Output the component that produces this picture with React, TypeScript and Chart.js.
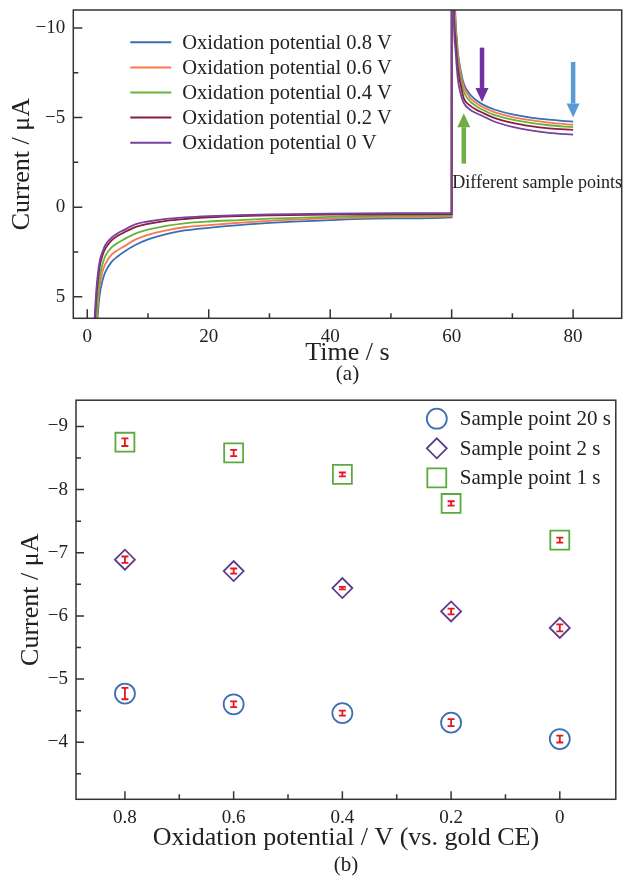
import React, { useEffect, useRef } from "react";
import { Chart, registerables } from "chart.js";

Chart.register(...registerables);

// ---------------- (a) chronoamperometry curves ----------------
const TIMES = [1.0, 1.5, 2, 2.5, 3, 4, 5, 6, 8, 10, 13, 16, 20, 25, 30, 40, 50, 60, 60.02, 60.3, 60.6, 61, 61.5, 62, 63, 64, 65, 67, 70, 73, 76, 80];
const SERIES_LABELS = [
  "Oxidation potential 0.8 V",
  "Oxidation potential 0.6 V",
  "Oxidation potential 0.4 V",
  "Oxidation potential 0.2 V",
  "Oxidation potential 0 V",
];
const CURRENT_08V = [9.5, 7.0, 5.0, 4.1, 3.6, 3.05, 2.75, 2.5, 2.1, 1.8, 1.5, 1.3, 1.15, 1.0, 0.88, 0.72, 0.63, 0.57, -30, -14, -10.8, -8.75, -7.6, -6.89, -6.3, -5.98, -5.75, -5.45, -5.18, -5.0, -4.88, -4.77];
const CURRENT_06V = [9.0, 6.5, 4.5, 3.6, 3.15, 2.65, 2.4, 2.2, 1.8, 1.55, 1.3, 1.12, 1.0, 0.87, 0.76, 0.63, 0.55, 0.5, -30, -13.5, -10.4, -8.58, -7.4, -6.71, -6.12, -5.82, -5.6, -5.3, -5.03, -4.85, -4.72, -4.6];
const CURRENT_04V = [8.5, 6.0, 4.0, 3.2, 2.7, 2.25, 2.0, 1.8, 1.46, 1.25, 1.04, 0.9, 0.8, 0.72, 0.64, 0.54, 0.48, 0.44, -30, -13, -10.0, -8.24, -7.15, -6.44, -5.92, -5.65, -5.45, -5.15, -4.88, -4.7, -4.57, -4.46];
const CURRENT_02V = [8.0, 5.0, 3.4, 2.7, 2.3, 1.85, 1.6, 1.42, 1.1, 0.93, 0.76, 0.66, 0.57, 0.5, 0.46, 0.42, 0.4, 0.39, -30, -12.3, -9.5, -7.78, -6.8, -6.07, -5.68, -5.45, -5.28, -4.98, -4.7, -4.52, -4.4, -4.31];
const CURRENT_0V = [7.5, 4.6, 3.1, 2.5, 2.1, 1.7, 1.45, 1.28, 0.95, 0.8, 0.65, 0.57, 0.5, 0.44, 0.4, 0.36, 0.34, 0.32, -30, -11.5, -8.9, -7.2, -6.3, -5.81, -5.45, -5.25, -5.1, -4.78, -4.48, -4.28, -4.15, -4.05];
const TIME_TICKS = [0, 20, 40, 60, 80];
const TIME_MINOR = [10, 30, 50, 70];
const CURRENT_A_TICKS = [-10, -5, 0, 5];
const CURRENT_A_MINOR = [-7.5, -2.5, 2.5];
const ARROW_TIMES = [65, 80, 62];
const ARROW_FROM = [-8.9, -8.1, -2.43];
const ARROW_TO = [-5.87, -5.0, -5.24];
const NOTE_TEXT = "Different sample points";
const NOTE_AT = { t: 60.1, i: -1.32 };

// ---------------- (b) sample points ----------------
const POTENTIALS = [0.8, 0.6, 0.4, 0.2, 0];
const SAMPLE_LABELS = ["Sample point 20 s", "Sample point 2 s", "Sample point 1 s"];
const SAMPLE_20S = [-4.77, -4.6, -4.46, -4.31, -4.05];
const SAMPLE_20S_ERR = [0.09, 0.045, 0.04, 0.055, 0.055];
const SAMPLE_2S = [-6.89, -6.71, -6.44, -6.07, -5.81];
const SAMPLE_2S_ERR = [0.05, 0.04, 0.02, 0.045, 0.055];
const SAMPLE_1S = [-8.75, -8.58, -8.24, -7.78, -7.2];
const SAMPLE_1S_ERR = [0.06, 0.05, 0.03, 0.035, 0.04];
const POT_TICKS = [0.8, 0.6, 0.4, 0.2, 0];
const POT_MINOR = [0.7, 0.5, 0.3, 0.1];
const CURRENT_B_TICKS = [-9, -8, -7, -6, -5, -4];
const CURRENT_B_MINOR = [-8.5, -7.5, -6.5, -5.5, -4.5, -3.5];

// ---------------- styles ----------------
const FONT = '"Liberation Serif", "Times New Roman", Times, serif';
const INK = "#222222";
const AXIS = "#333333";
const LINE_COLORS = ["#376eb4", "#fa7850", "#64b43c", "#8c1e3c", "#7840a0"];
const ARROW_COLORS = ["#7030a0", "#5b9bd5", "#70ad47"];
const MARKER_COLORS = ["#3c6eb4", "#5b3c8c", "#5aaa3c"];
const MARKER_STYLES = ["circle", "rectRot", "rect"];
const MARKER_RADII = [10, 10, 13.4];
const ERR_COLOR = "#e8141e";

function fmtMinus(v: number): string {
  const r = Math.round(v * 100) / 100;
  return r < 0 ? "\u2212" + String(Math.abs(r)) : String(r);
}

function fixAxis(size: number, horizontal: boolean) {
  return (scale: any) => {
    if (horizontal) scale.height = size;
    else scale.width = size;
    scale.paddingTop = 0;
    scale.paddingBottom = 0;
    scale.paddingLeft = 0;
    scale.paddingRight = 0;
  };
}

function setTicks(values: number[]) {
  return (scale: any) => {
    scale.ticks = values.map((v) => ({ value: v }));
  };
}

function makeFrame(xMajor: number[], xMinor: number[], yMajor: number[], yMinor: number[], majorLen: number, minorLen: number) {
  return {
    id: "frame",
    afterDatasetsDraw(chart: any) {
      const { ctx, chartArea: a, scales } = chart;
      const xs = scales.x;
      const ys = scales.y;
      ctx.save();
      ctx.strokeStyle = AXIS;
      ctx.lineWidth = 1.5;
      ctx.beginPath();
      for (const v of xMajor) {
        const p = xs.getPixelForValue(v);
        ctx.moveTo(p, a.bottom);
        ctx.lineTo(p, a.bottom - majorLen);
      }
      for (const v of xMinor) {
        const p = xs.getPixelForValue(v);
        ctx.moveTo(p, a.bottom);
        ctx.lineTo(p, a.bottom - minorLen);
      }
      for (const v of yMajor) {
        const p = ys.getPixelForValue(v);
        ctx.moveTo(a.left, p);
        ctx.lineTo(a.left + majorLen, p);
      }
      for (const v of yMinor) {
        const p = ys.getPixelForValue(v);
        ctx.moveTo(a.left, p);
        ctx.lineTo(a.left + minorLen, p);
      }
      ctx.stroke();
      ctx.strokeRect(a.left, a.top, a.right - a.left, a.bottom - a.top);
      ctx.restore();
    },
  };
}

function drawArrow(ctx: CanvasRenderingContext2D, x: number, yStart: number, yTip: number, color: string) {
  const sw = 4.5;
  const hw = 13;
  const hl = 14;
  const dir = Math.sign(yTip - yStart);
  const headBase = yTip - dir * hl;
  ctx.fillStyle = color;
  ctx.fillRect(x - sw / 2, Math.min(yStart, headBase), sw, Math.abs(headBase - yStart));
  ctx.beginPath();
  ctx.moveTo(x - hw / 2, headBase);
  ctx.lineTo(x + hw / 2, headBase);
  ctx.lineTo(x, yTip);
  ctx.closePath();
  ctx.fill();
}

const annotA = {
  id: "annotA",
  afterDraw(chart: any) {
    const { ctx, chartArea: a, scales } = chart;
    const xs = scales.x;
    const ys = scales.y;
    ctx.save();
    ARROW_TIMES.forEach((t, i) => {
      drawArrow(ctx, xs.getPixelForValue(t), ys.getPixelForValue(ARROW_FROM[i]), ys.getPixelForValue(ARROW_TO[i]), ARROW_COLORS[i]);
    });
    ctx.fillStyle = INK;
    ctx.font = `18px ${FONT}`;
    ctx.textAlign = "left";
    ctx.textBaseline = "middle";
    ctx.fillText(NOTE_TEXT, xs.getPixelForValue(NOTE_AT.t), ys.getPixelForValue(NOTE_AT.i));
    // legend
    ctx.font = `20.5px ${FONT}`;
    chart.data.datasets.forEach((ds: any, i: number) => {
      const y = a.top + 32.3 + i * 25.1;
      const x0 = a.left + 57;
      ctx.strokeStyle = ds.borderColor;
      ctx.lineWidth = 2;
      ctx.beginPath();
      ctx.moveTo(x0, y);
      ctx.lineTo(x0 + 41, y);
      ctx.stroke();
      ctx.fillStyle = INK;
      ctx.fillText(ds.label, x0 + 52, y + 1);
    });
    // panel label
    ctx.font = `21px ${FONT}`;
    ctx.textAlign = "center";
    ctx.fillText("(a)", (a.left + a.right) / 2, 374);
    ctx.restore();
  },
};

function drawMarker(ctx: CanvasRenderingContext2D, style: string, x: number, y: number, r: number) {
  ctx.beginPath();
  if (style === "circle") {
    ctx.arc(x, y, r, 0, Math.PI * 2);
  } else if (style === "rectRot") {
    ctx.moveTo(x, y - r);
    ctx.lineTo(x + r, y);
    ctx.lineTo(x, y + r);
    ctx.lineTo(x - r, y);
    ctx.closePath();
  } else {
    const s = r * Math.SQRT1_2;
    ctx.rect(x - s, y - s, 2 * s, 2 * s);
  }
  ctx.stroke();
}

const annotB = {
  id: "annotB",
  afterDatasetsDraw(chart: any) {
    const { ctx, scales } = chart;
    const xs = scales.x;
    const ys = scales.y;
    ctx.save();
    ctx.strokeStyle = ERR_COLOR;
    ctx.lineWidth = 1.8;
    chart.data.datasets.forEach((ds: any) => {
      ds.data.forEach((p: any, j: number) => {
        const e = ds.errors[j];
        const px = xs.getPixelForValue(p.x);
        const y0 = ys.getPixelForValue(p.y - e);
        const y1 = ys.getPixelForValue(p.y + e);
        ctx.beginPath();
        ctx.moveTo(px, y0);
        ctx.lineTo(px, y1);
        ctx.moveTo(px - 3.5, y0);
        ctx.lineTo(px + 3.5, y0);
        ctx.moveTo(px - 3.5, y1);
        ctx.lineTo(px + 3.5, y1);
        ctx.stroke();
      });
    });
    ctx.restore();
  },
  afterDraw(chart: any) {
    const { ctx, chartArea: a } = chart;
    ctx.save();
    ctx.font = `21px ${FONT}`;
    ctx.textAlign = "left";
    ctx.textBaseline = "middle";
    chart.data.datasets.forEach((ds: any, i: number) => {
      const y = a.top + 18.5 + i * 29.6;
      const x = a.right - 179;
      ctx.strokeStyle = ds.borderColor;
      ctx.lineWidth = 1.8;
      drawMarker(ctx, ds.pointStyle, x, y, ds.pointRadius);
      ctx.fillStyle = INK;
      ctx.fillText(ds.label, x + 23, y + 1);
    });
    ctx.font = `21px ${FONT}`;
    ctx.textAlign = "center";
    ctx.fillStyle = INK;
    ctx.fillText("(b)", (a.left + a.right) / 2, 480);
    ctx.restore();
  },
};

function tickFont(size: number) {
  return { family: FONT, size };
}

function buildA(): any {
  const series = [CURRENT_08V, CURRENT_06V, CURRENT_04V, CURRENT_02V, CURRENT_0V];
  return {
    type: "line",
    data: {
      datasets: series.map((vals, i) => ({
        label: SERIES_LABELS[i],
        data: TIMES.map((t, j) => ({ x: t, y: vals[j] })),
        borderColor: LINE_COLORS[i],
        backgroundColor: LINE_COLORS[i],
        borderWidth: 1.8,
        pointRadius: 0,
        cubicInterpolationMode: "monotone",
        fill: false,
        order: 5 - i,
      })),
    },
    options: {
      responsive: false,
      animation: false,
      events: [],
      layout: { padding: { top: 10, right: 9.3, left: 0, bottom: 0 } },
      scales: {
        x: {
          type: "linear",
          min: -2.3,
          max: 88,
          bounds: "data",
          grid: { display: false, drawTicks: false },
          border: { display: false },
          afterBuildTicks: setTicks(TIME_TICKS),
          afterFit: fixAxis(66.7, true),
          ticks: { font: tickFont(19), color: INK, padding: 7, maxRotation: 0, autoSkip: false, callback: (v: number) => fmtMinus(v) },
          title: { display: true, text: "Time / s", font: { family: FONT, size: 26 }, color: INK, padding: { top: 0, bottom: 16.4 } },
        },
        y: {
          type: "linear",
          reverse: true,
          min: -11,
          max: 6.2,
          bounds: "data",
          grid: { display: false, drawTicks: false },
          border: { display: false },
          afterBuildTicks: setTicks(CURRENT_A_TICKS),
          afterFit: fixAxis(73.3, false),
          ticks: { font: tickFont(19), color: INK, padding: 8, autoSkip: false, callback: (v: number) => fmtMinus(v) },
          title: { display: true, text: "Current / \u03bcA", font: { family: FONT, size: 26 }, color: INK, padding: { top: 6.4, bottom: 0 } },
        },
      },
      plugins: { legend: { display: false }, tooltip: { enabled: false } },
    },
    plugins: [makeFrame(TIME_TICKS, TIME_MINOR, CURRENT_A_TICKS, CURRENT_A_MINOR, 9, 5), annotA],
  };
}

function buildB(): any {
  const series = [SAMPLE_20S, SAMPLE_2S, SAMPLE_1S];
  const errs = [SAMPLE_20S_ERR, SAMPLE_2S_ERR, SAMPLE_1S_ERR];
  return {
    type: "scatter",
    data: {
      datasets: series.map((vals, i) => ({
        label: SAMPLE_LABELS[i],
        data: POTENTIALS.map((p, j) => ({ x: p, y: vals[j] })),
        errors: errs[i],
        pointStyle: MARKER_STYLES[i],
        pointRadius: MARKER_RADII[i],
        pointBorderWidth: 1.8,
        borderColor: MARKER_COLORS[i],
        backgroundColor: "rgba(0,0,0,0)",
        showLine: false,
      })),
    },
    options: {
      responsive: false,
      animation: false,
      events: [],
      layout: { padding: { top: 7.3, right: 12, left: 0, bottom: 0 } },
      scales: {
        x: {
          type: "linear",
          reverse: true,
          min: -0.103,
          max: 0.89,
          bounds: "data",
          grid: { display: false, drawTicks: false },
          border: { display: false },
          afterBuildTicks: setTicks(POT_TICKS),
          afterFit: fixAxis(83.7, true),
          ticks: { font: tickFont(19), color: INK, padding: 7, maxRotation: 0, autoSkip: false, callback: (v: number) => fmtMinus(v) },
          title: { display: true, text: "Oxidation potential / V (vs. gold CE)", font: { family: FONT, size: 26 }, color: INK, padding: { top: 0, bottom: 29.4 } },
        },
        y: {
          type: "linear",
          reverse: true,
          min: -9.415,
          max: -3.096,
          bounds: "data",
          grid: { display: false, drawTicks: false },
          border: { display: false },
          afterBuildTicks: setTicks(CURRENT_B_TICKS),
          afterFit: fixAxis(76, false),
          ticks: { font: tickFont(19), color: INK, padding: 8, autoSkip: false, callback: (v: number) => fmtMinus(v) },
          title: { display: true, text: "Current / \u03bcA", font: { family: FONT, size: 26 }, color: INK, padding: { top: 16, bottom: 0 } },
        },
      },
      plugins: { legend: { display: false }, tooltip: { enabled: false } },
    },
    plugins: [makeFrame(POT_TICKS, POT_MINOR, CURRENT_B_TICKS, CURRENT_B_MINOR, 8, 5), annotB],
  };
}

export default function App() {
  const refA = useRef<HTMLCanvasElement>(null);
  const refB = useRef<HTMLCanvasElement>(null);
  useEffect(() => {
    const ca = new Chart(refA.current as HTMLCanvasElement, buildA());
    const cb = new Chart(refB.current as HTMLCanvasElement, buildB());
    return () => {
      ca.destroy();
      cb.destroy();
    };
  }, []);
  return (
    <div style={{ position: "absolute", left: 0, top: 0, width: 631, height: 883, background: "#ffffff" }}>
      <canvas ref={refA} width={631} height={385} style={{ position: "absolute", left: 0, top: 0, width: 631, height: 385 }} />
      <canvas ref={refB} width={631} height={498} style={{ position: "absolute", left: 0, top: 385, width: 631, height: 498 }} />
    </div>
  );
}
